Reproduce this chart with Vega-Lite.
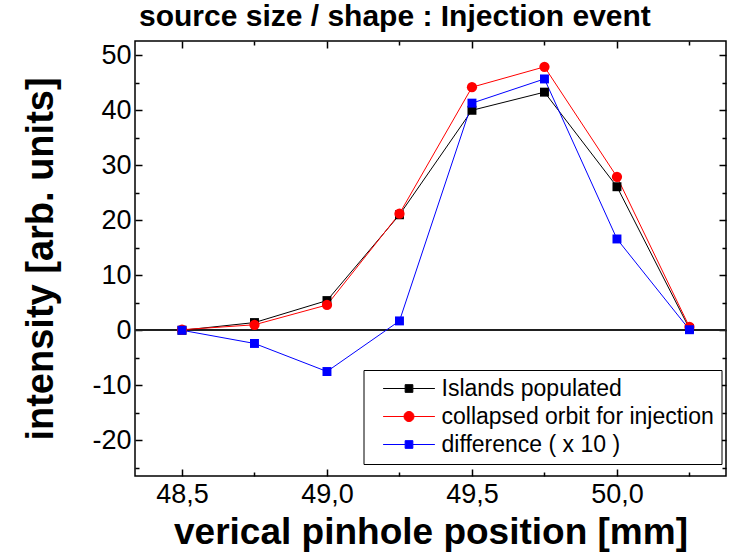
{
  "$schema": "https://vega.github.io/schema/vega-lite/v6.json",
  "width": 591,
  "height": 435,
  "autosize": {"type": "none"},
  "padding": {"left": 135, "top": 41, "right": 4, "bottom": 84},
  "background": "white",
  "title": {"text": "source size / shape : Injection event", "font": "Liberation Sans", "fontSize": 30, "fontWeight": "bold", "anchor": "start", "frame": "group", "dx": 4, "offset": 8, "color": "black"},
  "config": {"view": {"stroke": "black", "strokeWidth": 1.5}, "font": "Liberation Sans"},
  "data": {"values": [
    {"pos": 48.5, "val": 0.0, "series": "Islands populated"},
    {"pos": 48.75, "val": 1.4, "series": "Islands populated"},
    {"pos": 49.0, "val": 5.4, "series": "Islands populated"},
    {"pos": 49.25, "val": 21.0, "series": "Islands populated"},
    {"pos": 49.5, "val": 40.0, "series": "Islands populated"},
    {"pos": 49.75, "val": 43.3, "series": "Islands populated"},
    {"pos": 50.0, "val": 26.1, "series": "Islands populated"},
    {"pos": 50.25, "val": 0.3, "series": "Islands populated"},
    {"pos": 48.5, "val": 0.1, "series": "collapsed orbit for injection"},
    {"pos": 48.75, "val": 1.0, "series": "collapsed orbit for injection"},
    {"pos": 49.0, "val": 4.6, "series": "collapsed orbit for injection"},
    {"pos": 49.25, "val": 21.2, "series": "collapsed orbit for injection"},
    {"pos": 49.5, "val": 44.2, "series": "collapsed orbit for injection"},
    {"pos": 49.75, "val": 47.9, "series": "collapsed orbit for injection"},
    {"pos": 50.0, "val": 27.9, "series": "collapsed orbit for injection"},
    {"pos": 50.25, "val": 0.6, "series": "collapsed orbit for injection"},
    {"pos": 48.5, "val": 0.0, "series": "difference ( x 10 )"},
    {"pos": 48.75, "val": -2.4, "series": "difference ( x 10 )"},
    {"pos": 49.0, "val": -7.5, "series": "difference ( x 10 )"},
    {"pos": 49.25, "val": 1.7, "series": "difference ( x 10 )"},
    {"pos": 49.5, "val": 41.3, "series": "difference ( x 10 )"},
    {"pos": 49.75, "val": 45.7, "series": "difference ( x 10 )"},
    {"pos": 50.0, "val": 16.6, "series": "difference ( x 10 )"},
    {"pos": 50.25, "val": 0.1, "series": "difference ( x 10 )"}
  ]},
  "layer": [
    {
      "mark": {"type": "rule", "color": "#222222", "strokeWidth": 1},
      "encoding": {
        "y": {"datum": 0, "type": "quantitative", "scale": {"domain": [-26.5, 52.6], "nice": false, "zero": false}, "axis": null}
      }
    },
    {
      "mark": {"type": "line", "strokeWidth": 1},
      "encoding": {
        "x": {"field": "pos", "type": "quantitative",
          "scale": {"domain": [48.338, 50.376], "nice": false, "zero": false},
          "axis": {"orient": "bottom", "values": [48.5, 48.75, 49, 49.25, 49.5, 49.75, 50, 50.25],
            "labelExpr": "abs(datum.value*2-round(datum.value*2))<0.001 ? replace(format(datum.value, '.1f'), '.', ',') : ''",
            "domain": false, "grid": false,
            "tickSize": {"condition": {"test": "abs(datum.value*2-round(datum.value*2))<0.001", "value": -7}, "value": -4},
            "tickWidth": 1.5, "tickColor": "black",
            "labelFont": "Liberation Sans", "labelFontSize": 27, "labelColor": "black", "labelPadding": 12,
            "labelFlush": false, "labelOverlap": false,
            "title": "verical pinhole position [mm]", "titleFont": "Liberation Sans", "titleFontSize": 37, "titleFontWeight": "bold", "titleColor": "black", "titlePadding": 4}},
        "y": {"field": "val", "type": "quantitative",
          "scale": {"domain": [-26.5, 52.6], "nice": false, "zero": false},
          "axis": {"orient": "left", "values": [-25, -20, -15, -10, -5, 0, 5, 10, 15, 20, 25, 30, 35, 40, 45, 50],
            "labelExpr": "datum.value % 10 == 0 ? (datum.value < 0 ? '-' + abs(datum.value) : '' + datum.value) : ''",
            "domain": false, "grid": false,
            "tickSize": {"condition": {"test": "datum.value % 10 == 0", "value": -7}, "value": -4},
            "tickWidth": 1.5, "tickColor": "black",
            "labelFont": "Liberation Sans", "labelFontSize": 27, "labelColor": "black", "labelPadding": 11,
            "labelFlush": false, "labelOverlap": false,
            "title": "intensity [arb. units]", "titleFont": "Liberation Sans", "titleFontSize": 38, "titleFontWeight": "bold", "titleColor": "black", "titlePadding": 31}},
        "color": {"field": "series", "type": "nominal",
          "scale": {"domain": ["Islands populated", "collapsed orbit for injection", "difference ( x 10 )"], "range": ["#000000", "#ff0000", "#0000ff"]}}
      }
    },
    {
      "transform": [{"filter": "datum.series === 'Islands populated'"}],
      "mark": {"type": "point", "filled": true, "opacity": 1, "shape": "square", "size": 80},
      "encoding": {
        "x": {"field": "pos", "type": "quantitative",
          "axis": {"orient": "top", "values": [48.5, 48.75, 49, 49.25, 49.5, 49.75, 50, 50.25], "labels": false, "title": null,
            "domain": false, "grid": false,
            "tickSize": {"condition": {"test": "abs(datum.value*2-round(datum.value*2))<0.001", "value": -7}, "value": -4},
            "tickWidth": 1.5, "tickColor": "black"}},
        "y": {"field": "val", "type": "quantitative",
          "axis": {"orient": "right", "values": [-25, -20, -15, -10, -5, 0, 5, 10, 15, 20, 25, 30, 35, 40, 45, 50], "labels": false, "title": null,
            "domain": false, "grid": false,
            "tickSize": {"condition": {"test": "datum.value % 10 == 0", "value": -7}, "value": -4},
            "tickWidth": 1.5, "tickColor": "black"}},
        "color": {"field": "series", "type": "nominal"}
      }
    },
    {
      "transform": [{"filter": "datum.series === 'collapsed orbit for injection'"}],
      "mark": {"type": "point", "filled": true, "opacity": 1, "shape": "circle", "size": 105},
      "encoding": {
        "x": {"field": "pos", "type": "quantitative", "axis": null},
        "y": {"field": "val", "type": "quantitative", "axis": null},
        "color": {"field": "series", "type": "nominal"}
      }
    },
    {
      "transform": [{"filter": "datum.series === 'difference ( x 10 )'"}],
      "mark": {"type": "point", "filled": true, "opacity": 1, "shape": "square", "size": 80},
      "encoding": {
        "x": {"field": "pos", "type": "quantitative", "axis": null},
        "y": {"field": "val", "type": "quantitative", "axis": null},
        "color": {"field": "series", "type": "nominal"}
      }
    },
    {
      "mark": {"type": "point", "filled": true, "opacity": 0, "strokeWidth": 1},
      "encoding": {
        "x": {"field": "pos", "type": "quantitative", "axis": null},
        "y": {"field": "val", "type": "quantitative", "axis": null},
        "color": {"field": "series", "type": "nominal",
          "legend": {"title": null, "orient": "none", "legendX": 228.5, "legendY": 329, "padding": 7,
            "strokeColor": "black", "fillColor": "white",
            "labelFont": "Liberation Sans", "labelFontSize": 23, "labelColor": "black", "labelLimit": 400,
            "symbolSize": 196, "symbolStrokeWidth": 1, "symbolOffset": 27, "labelOffset": 21, "rowPadding": 4,
            "symbolOpacity": 1}},
        "stroke": {"field": "series", "type": "nominal",
          "scale": {"domain": ["Islands populated", "collapsed orbit for injection", "difference ( x 10 )"], "range": ["#000000", "#ff0000", "#0000ff"]},
          "legend": {"title": null, "orient": "none", "legendX": 228.5, "legendY": 329, "padding": 7,
            "strokeColor": "black", "fillColor": "white",
            "labelFont": "Liberation Sans", "labelFontSize": 23, "labelColor": "black", "labelLimit": 400,
            "symbolSize": 196, "symbolStrokeWidth": 1, "symbolOffset": 27, "labelOffset": 21, "rowPadding": 4,
            "symbolOpacity": 1}},
        "shape": {"field": "series", "type": "nominal",
          "scale": {"domain": ["Islands populated", "collapsed orbit for injection", "difference ( x 10 )"],
            "range": [
              "M-3.7,0H-0.55M0.55,0H3.7M-0.55,-0.55H0.55V0.55H-0.55Z",
              "M-3.7,0H-0.72M0.72,0H3.7M-0.72,0A0.72,0.72,0,1,0,0.72,0A0.72,0.72,0,1,0,-0.72,0Z",
              "M-3.7,0H-0.55M0.55,0H3.7M-0.55,-0.55H0.55V0.55H-0.55Z"
            ]},
          "legend": {"title": null, "orient": "none", "legendX": 228.5, "legendY": 329, "padding": 7,
            "strokeColor": "black", "fillColor": "white",
            "labelFont": "Liberation Sans", "labelFontSize": 23, "labelColor": "black", "labelLimit": 400,
            "symbolSize": 196, "symbolStrokeWidth": 1, "symbolOffset": 27, "labelOffset": 21, "rowPadding": 4,
            "symbolOpacity": 1}}
      }
    }
  ],
  "resolve": {
    "axis": {"x": "independent", "y": "independent"}
  }
}
